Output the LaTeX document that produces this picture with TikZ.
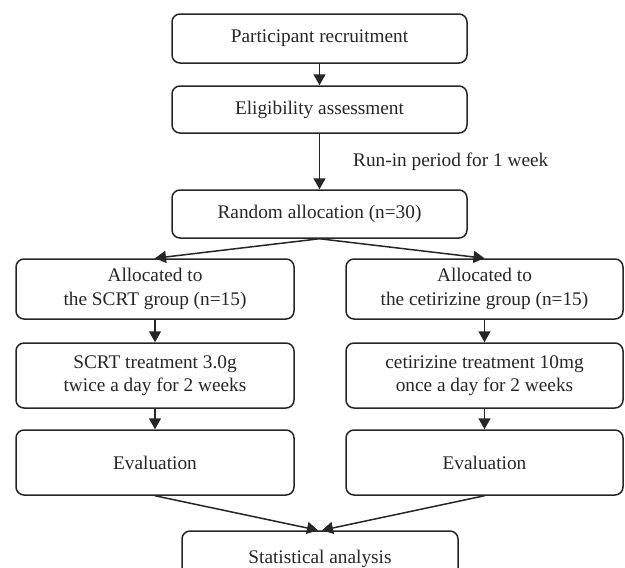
\documentclass[tikz,border=0pt]{standalone}
\usepackage{fontspec}
\setmainfont{Liberation Serif}
\usetikzlibrary{arrows.meta}
\begin{document}
\begin{tikzpicture}[x=1pt,y=-1pt,
  box/.style={draw=black!85, line width=1.5pt, rounded corners=8pt, align=center, inner sep=0pt, text=black!85, font=\fontsize{19.3}{23.5}\selectfont},
  lbl/.style={inner sep=0pt, text=black!85, font=\fontsize{19.3}{23.5}\selectfont},
  arr/.style={draw=black!85, line width=1.5pt, -{Triangle[length=11pt,width=12pt]}}]
\clip (0,0) rectangle (625,568);
\node[box, minimum width=295pt, minimum height=49pt] (rec) at (319.5,38.5) {Participant recruitment};
\node[box, minimum width=295pt, minimum height=47pt] (elig) at (319.5,109.5) {Eligibility assessment};
\node[box, minimum width=295pt, minimum height=48pt] (rand) at (319.5,214) {Random allocation (n=30)};
\node[lbl, anchor=west] (runin) at (353,162) {Run-in period for 1 week};
\node[box, minimum width=278pt, minimum height=60pt] (allL) at (155,289) {Allocated to\\the SCRT group (n=15)};
\node[box, minimum width=277pt, minimum height=60pt] (allR) at (484.5,289) {Allocated to\\the cetirizine group (n=15)};
\node[box, minimum width=278pt, minimum height=65pt] (trtL) at (155,375.5) {SCRT treatment 3.0g\\twice a day for 2 weeks};
\node[box, minimum width=277pt, minimum height=65pt] (trtR) at (484.5,375.5) {cetirizine treatment 10mg\\once a day for 2 weeks};
\node[box, minimum width=278pt, minimum height=65pt] (evL) at (155,462.5) {Evaluation};
\node[box, minimum width=277pt, minimum height=65pt] (evR) at (484.5,462.5) {Evaluation};
\node[box, minimum width=276pt, minimum height=56pt] (stat) at (320,559) {Statistical analysis};
\draw[arr] (rec.south) -- (elig.north);
\draw[arr] (elig.south) -- (rand.north);
\draw[arr] (rand.south) -- (allL.north);
\draw[arr] (rand.south) -- (allR.north);
\draw[arr] (allL.south) -- (trtL.north);
\draw[arr] (allR.south) -- (trtR.north);
\draw[arr] (trtL.south) -- (evL.north);
\draw[arr] (trtR.south) -- (evR.north);
\draw[arr] (evL.south) -- ([xshift=-2pt]stat.north);
\draw[arr] (evR.south) -- ([xshift=2pt]stat.north);
\end{tikzpicture}
\end{document}
